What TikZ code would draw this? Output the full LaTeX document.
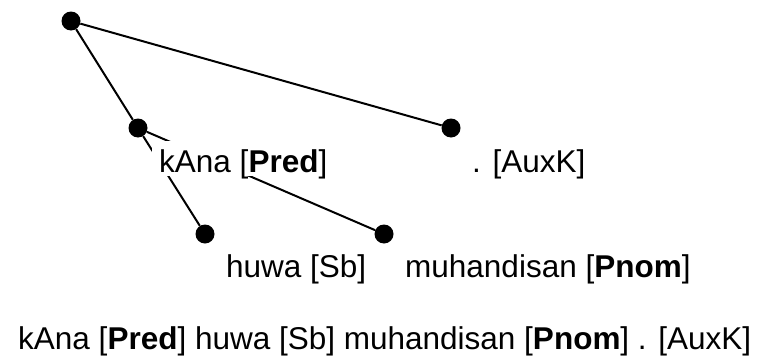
\documentclass[tikz,border=0pt]{standalone}
\usepackage{fontspec}
\setmainfont{Liberation Sans}

\tikzset{
  tok/.style={circle, fill=black, inner sep=0pt, minimum size=19pt},
  lbl/.style={anchor=base west, fill=white, text height=27pt, text depth=0pt,
    inner xsep=7pt, inner ysep=4pt, font=\fontsize{31.5}{36}\selectfont},
  dep/.style={line width=2pt}
}

\begin{document}
\begin{tikzpicture}[x=1pt, y=-1pt]
  \useasboundingbox (0,0) rectangle (763,356);

  % Token dots
  \node[tok] (root) at (71,21) {};
  \node[tok] (kana) at (138,128) {};
  \node[tok] (punct) at (451,128) {};
  \node[tok] (huwa) at (205,234) {};
  \node[tok] (muh) at (384,234) {};

  % Dependencies
  \draw[dep] (root) -- (kana);
  \draw[dep] (root) -- (punct);
  \draw[dep] (kana) -- (huwa);
  \draw[dep] (kana) -- (muh);

  % Labels
  \node[lbl] (kanalbl) at ([xshift=14pt,yshift=-44pt]kana.center) {kAna [\textbf{Pred}]};
  \node[lbl] (punctlbl) at ([xshift=14pt,yshift=-44pt]punct.center) {. [AuxK]};
  \node[lbl] (huwalbl) at ([xshift=14pt,yshift=-43pt]huwa.center) {huwa [Sb]};
  \node[lbl] (muhlbl) at ([xshift=14pt,yshift=-43pt]muh.center) {muhandisan [\textbf{Pnom}]};

  % Sentence
  \node[anchor=base west, inner sep=0pt, font=\fontsize{31.5}{36}\selectfont] (sent) at (18,349)
    {kAna [\textbf{Pred}] huwa [Sb] muhandisan [\textbf{Pnom}] . [AuxK]};

\end{tikzpicture}
\end{document}
